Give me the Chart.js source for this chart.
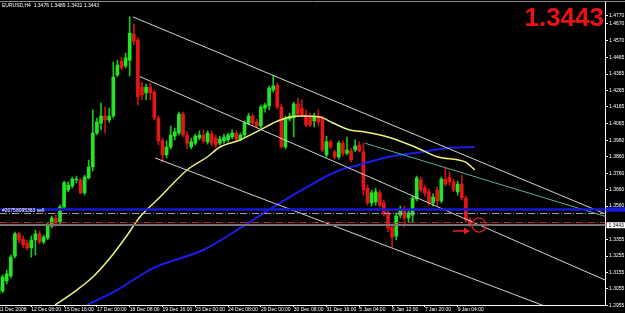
<!DOCTYPE html>
<html><head><meta charset="utf-8">
<script src="https://cdn.jsdelivr.net/npm/chart.js@4/dist/chart.umd.min.js"></script>
<style>html,body{margin:0;padding:0;background:#000;overflow:hidden}</style>
</head><body>
<canvas id="c" width="625" height="313"></canvas>
<script>
const symbol = "EURUSD,H4";
// H4 candles, bar 0 = 11 Dec 2008 00:00
const openP = [1.3024,1.3042,1.3103,1.3134,1.3255,1.3390,1.3359,1.3335,1.3304,1.3353,1.3390,1.3341,1.3365,1.3438,1.3487,1.3463,1.3554,1.3658,1.3682,1.3719,1.3719,1.3640,1.3731,1.3798,1.4005,1.4066,1.4109,1.4085,1.4109,1.4359,1.4444,1.4414,1.4450,1.4609,1.4572,1.4286,1.4249,1.4286,1.4255,1.4097,1.3957,1.3871,1.3920,1.3987,1.4005,1.4121,1.3993,1.3920,1.3944,1.3975,1.3993,1.3951,1.3999,1.3975,1.3944,1.3957,1.3963,1.3981,1.4005,1.3969,1.3993,1.4066,1.4109,1.4072,1.4048,1.4158,1.4170,1.4268,1.4298,1.4164,1.3920,1.4091,1.4097,1.4182,1.4158,1.4115,1.4109,1.4079,1.4109,1.4097,1.3871,1.3951,1.3890,1.3859,1.3944,1.3883,1.3896,1.3902,1.3932,1.3890,1.3670,1.3579,1.3585,1.3640,1.3579,1.3518,1.3432,1.3377,1.3505,1.3536,1.3487,1.3505,1.3603,1.3719,1.3670,1.3646,1.3579,1.3658,1.3591,1.3725,1.3737,1.3707,1.3646,1.3694,1.3609,1.3476];
const highP = [1.3085,1.3140,1.3170,1.3262,1.3402,1.3402,1.3377,1.3353,1.3377,1.3414,1.3408,1.3383,1.3457,1.3499,1.3505,1.3566,1.3713,1.3707,1.3737,1.3743,1.3731,1.3749,1.3841,1.4146,1.4097,1.4188,1.4164,1.4158,1.4438,1.4450,1.4469,1.4493,1.4713,1.4670,1.4585,1.4316,1.4304,1.4310,1.4268,1.4109,1.3975,1.3957,1.4048,1.4036,1.4133,1.4133,1.4012,1.3975,1.3999,1.4018,1.4024,1.4018,1.4018,1.3993,1.3987,1.3999,1.4005,1.4024,1.4018,1.4005,1.4079,1.4127,1.4121,1.4091,1.4176,1.4188,1.4292,1.4359,1.4310,1.4182,1.4109,1.4127,1.4194,1.4219,1.4207,1.4146,1.4127,1.4127,1.4146,1.4109,1.3987,1.3963,1.3902,1.3957,1.3957,1.3981,1.3914,1.3963,1.3951,1.3944,1.3688,1.3658,1.3670,1.3658,1.3597,1.3536,1.3451,1.3518,1.3560,1.3560,1.3542,1.3621,1.3743,1.3737,1.3688,1.3664,1.3634,1.3676,1.3737,1.3792,1.3768,1.3725,1.3713,1.3749,1.3621,1.3489];
const lowP = [1.3006,1.3030,1.3085,1.3121,1.3243,1.3335,1.3304,1.3292,1.3249,1.3262,1.3329,1.3329,1.3353,1.3426,1.3438,1.3444,1.3548,1.3646,1.3670,1.3701,1.3634,1.3627,1.3725,1.3774,1.3993,1.4024,1.4005,1.4072,1.4097,1.4347,1.4390,1.4402,1.4353,1.4542,1.4176,1.4207,1.4207,1.4207,1.4085,1.3932,1.3829,1.3853,1.3908,1.3963,1.3993,1.3981,1.3908,1.3908,1.3932,1.3963,1.3944,1.3938,1.3926,1.3914,1.3932,1.3944,1.3951,1.3969,1.3957,1.3957,1.3981,1.4054,1.4054,1.4036,1.4036,1.4133,1.4146,1.4255,1.4152,1.3914,1.3908,1.4079,1.3981,1.4109,1.4103,1.4042,1.4042,1.4042,1.4048,1.3890,1.3859,1.3908,1.3847,1.3847,1.3865,1.3871,1.3829,1.3890,1.3890,1.3627,1.3566,1.3560,1.3566,1.3554,1.3499,1.3402,1.3310,1.3353,1.3487,1.3432,1.3463,1.3463,1.3591,1.3646,1.3621,1.3566,1.3560,1.3566,1.3579,1.3682,1.3688,1.3646,1.3627,1.3597,1.3463,1.3432];
const closeP = [1.3066,1.3127,1.3146,1.3249,1.3390,1.3353,1.3323,1.3304,1.3353,1.3390,1.3341,1.3371,1.3444,1.3487,1.3457,1.3554,1.3701,1.3688,1.3725,1.3725,1.3640,1.3737,1.3798,1.4005,1.4072,1.4109,1.4085,1.4109,1.4347,1.4420,1.4402,1.4463,1.4615,1.4566,1.4225,1.4237,1.4286,1.4249,1.4097,1.3957,1.3871,1.3920,1.3993,1.4012,1.4121,1.3993,1.3944,1.3951,1.3987,1.3993,1.3957,1.4005,1.3944,1.3932,1.3969,1.3981,1.3993,1.4005,1.3969,1.3993,1.4066,1.4109,1.4066,1.4048,1.4164,1.4176,1.4280,1.4292,1.4164,1.3920,1.4097,1.4109,1.4182,1.4121,1.4115,1.4054,1.4054,1.4109,1.4072,1.3902,1.3951,1.3920,1.3859,1.3944,1.3883,1.3902,1.3841,1.3926,1.3896,1.3658,1.3579,1.3640,1.3646,1.3566,1.3512,1.3426,1.3371,1.3499,1.3536,1.3487,1.3518,1.3609,1.3731,1.3658,1.3640,1.3579,1.3615,1.3591,1.3725,1.3694,1.3707,1.3658,1.3694,1.3609,1.3475,1.3443];

const xTickBars = [0,8,16,24,32,40,48,56,64,72,80,88,96,104,112];
const xTickLabels = ["11 Dec 2008","12 Dec 08:00","15 Dec 16:00","17 Dec 00:00","18 Dec 08:00","19 Dec 16:00","23 Dec 00:00","24 Dec 08:00","29 Dec 00:00","30 Dec 08:00","31 Dec 16:00","5 Jan 04:00","6 Jan 12:00","7 Jan 20:00","9 Jan 04:00"];
const yTickValues = [1.4721,1.4670,1.4570,1.4465,1.4365,1.4265,1.4165,1.4065,1.3960,1.3860,1.3760,1.3660,1.3560,1.3355,1.3255,1.3155,1.3055,1.2955];
const yTickLabels = ["1.4770","1.4670","1.4570","1.4465","1.4365","1.4265","1.4165","1.4065","1.3960","1.3860","1.3760","1.3660","1.3560","1.3355","1.3255","1.3155","1.3055","1.2955"];

// moving averages: [bar, price]
const maYellow = [[13.8,1.2957],[19.1,1.3048],[23.0,1.3127],[27.2,1.3243],[30.9,1.3365],[34.5,1.3493],[39.4,1.3615],[46.0,1.3780],[50.9,1.3859],[54.0,1.3920],[58.9,1.3963],[63.8,1.4024],[68.7,1.4085],[73.5,1.4109],[78.4,1.4103],[81.6,1.4066],[85.7,1.4024],[89.4,1.4012],[95.0,1.3981],[101.6,1.3920],[107.2,1.3859],[113.8,1.3829],[116.2,1.3780]];
const maBlue = [[21.6,1.2957],[28.9,1.3048],[37.7,1.3182],[49.9,1.3292],[60.1,1.3444],[67.0,1.3554],[75.2,1.3676],[83.3,1.3780],[87.0,1.3804],[95.0,1.3859],[103.3,1.3890],[109.6,1.3914],[116.2,1.3920]];

// trend lines: [bar, price] anchors
const trendUpper = [[32.8,1.4713],[148.4,1.3508]];
const trendMiddle = [[34.5,1.4349],[148.4,1.3104]];
const trendLower = [[38.2,1.3853],[148.4,1.2806]];
const trendTeal = [[89.4,1.3943],[148.4,1.3494]];

// horizontal levels
const levelBlue = 1.3539;
const levelOrder = 1.3516;
const levelStop = 1.3461;
const orderLabel = "#20758095363 sell";
const markerCircle = [117.2, 1.3444];
const markerArrow = [[110.8, 1.3408], [115.0, 1.3408]];

const xMin = 0.366, xMax = 148.05;
const yMin = 1.29567, yMax = 1.48041;

const FONT = 'Arial, "Liberation Sans", sans-serif';
const last = closeP.length - 1;
const isUp = closeP.map((c, i) => c >= openP[i]);
const wickData = closeP.map((c, i) => ({x: i, y: [lowP[i], highP[i]]}));
const bodyData = closeP.map((c, i) => ({x: i, y: [openP[i], c]}));
const pts = arr => arr.map(([x, y]) => ({x, y}));
const lineDs = (label, arr, color, w, extra) => Object.assign({type: 'line', label, data: pts(arr), borderColor: color, borderWidth: w, pointRadius: 0, fill: false, order: 0}, extra || {});

const mt4 = {
  id: 'mt4',
  beforeDraw(chart) {
    const ctx = chart.ctx;
    ctx.save();
    ctx.fillStyle = '#000';
    ctx.fillRect(0, 0, chart.width, chart.height);
    ctx.strokeStyle = '#8c8c8c';
    ctx.lineWidth = 1;
    ctx.beginPath(); ctx.moveTo(0, 1.5); ctx.lineTo(chart.width, 1.5); ctx.stroke();
    ctx.restore();
  },
  afterDatasetsDraw(chart) {
    const {ctx, chartArea: a, scales: {x, y}} = chart;
    ctx.save();
    const yb = y.getPixelForValue(levelBlue);
    ctx.fillStyle = '#1818d6';
    ctx.fillRect(a.left, yb - 1.25, a.right - a.left, 2.5);
    ctx.fillRect(a.right + 0.5, yb - 2.25, chart.width - a.right, 4.5);
    const hl = (p, color, w, dash) => {
      const py = Math.round(y.getPixelForValue(p)) + (w % 2 ? 0.5 : 0);
      ctx.strokeStyle = color; ctx.lineWidth = w; ctx.setLineDash(dash);
      ctx.beginPath(); ctx.moveTo(a.left, py); ctx.lineTo(a.right, py); ctx.stroke();
    };
    hl(levelOrder, '#a0a0a0', 1, [7, 2, 1, 2]);
    hl(levelStop, '#c62626', 1, [7, 2, 1, 2]);
    hl(closeP[last], '#747474', 2, []);
    ctx.setLineDash([]);
    // order label
    ctx.font = '5px ' + FONT;
    ctx.fillStyle = '#ffffff';
    ctx.textBaseline = 'bottom';
    ctx.textAlign = 'left';
    ctx.fillText(orderLabel, 2, y.getPixelForValue(levelOrder) - 0.5);
    // circle and arrow
    ctx.strokeStyle = '#e51c1c';
    ctx.lineWidth = 1.2;
    ctx.beginPath();
    ctx.arc(x.getPixelForValue(markerCircle[0]), y.getPixelForValue(markerCircle[1]), 7, 0, Math.PI * 2);
    ctx.stroke();
    const ax1 = x.getPixelForValue(markerArrow[0][0]), ay = y.getPixelForValue(markerArrow[0][1]);
    const ax2 = x.getPixelForValue(markerArrow[1][0]);
    ctx.lineWidth = 1.6;
    ctx.beginPath(); ctx.moveTo(ax1, ay); ctx.lineTo(ax2 - 5, ay); ctx.stroke();
    ctx.fillStyle = '#e51c1c';
    ctx.beginPath(); ctx.moveTo(ax2 - 6, ay - 3.5); ctx.lineTo(ax2, ay); ctx.lineTo(ax2 - 6, ay + 3.5); ctx.closePath(); ctx.fill();
    ctx.restore();
  },
  afterDraw(chart) {
    const {ctx, chartArea: a, scales: {y}} = chart;
    ctx.save();
    const f = v => v.toFixed(4);
    ctx.font = '5px ' + FONT;
    ctx.fillStyle = '#ffffff';
    ctx.textBaseline = 'middle';
    ctx.textAlign = 'left';
    ctx.fillText(symbol + '  ' + f(openP[last]) + ' ' + f(highP[last]) + ' ' + f(lowP[last]) + ' ' + f(closeP[last]), 2, 5.5);
    // current price box
    const py = y.getPixelForValue(closeP[last]);
    ctx.fillStyle = '#ffffff';
    ctx.fillRect(a.right + 1, py - 3, chart.width - a.right - 1, 6);
    ctx.fillStyle = '#000000';
    ctx.fillText(f(closeP[last]), a.right + 3, py + 0.2);
    // big price
    ctx.font = 'bold 26px ' + FONT;
    ctx.fillStyle = '#ee1111';
    ctx.textAlign = 'right';
    ctx.textBaseline = 'alphabetic';
    ctx.fillText(f(closeP[last]), 604, 26);
    ctx.restore();
  }
};

Chart.defaults.font.family = FONT;
const tickFont = {size: 5, lineHeight: 1.2};

new Chart(document.getElementById('c'), {
  type: 'bar',
  data: {
    datasets: [
      lineDs('trendUpper', trendUpper, '#d2d2d2', 1),
      lineDs('trendMiddle', trendMiddle, '#d2d2d2', 1),
      lineDs('trendLower', trendLower, '#d2d2d2', 1),
      lineDs('trendTeal', trendTeal, '#5fae9c', 1),
      lineDs('MA yellow', maYellow, '#f0f07a', 1.5, {cubicInterpolationMode: 'monotone'}),
      lineDs('MA blue', maBlue, '#1c1ce8', 2, {cubicInterpolationMode: 'monotone'}),
      {label: 'wick', data: wickData, backgroundColor: isUp.map(u => u ? '#18c818' : '#c81414'), barThickness: 1, grouped: false, order: 2},
      {label: 'body', data: bodyData, backgroundColor: isUp.map(u => u ? '#22e622' : '#e31616'), barThickness: 3, minBarLength: 1, grouped: false, order: 1}
    ]
  },
  options: {
    responsive: false,
    animation: false,
    devicePixelRatio: 1,
    events: [],
    layout: {padding: {top: 2, left: 0, right: 0, bottom: 0}},
    plugins: {legend: {display: false}, tooltip: {enabled: false}},
    scales: {
      x: {
        type: 'linear', min: xMin, max: xMax, offset: false, bounds: 'data',
        grid: {display: true, drawOnChartArea: false, drawTicks: true, tickLength: 2, color: '#ffffff', offset: false},
        border: {display: true, color: '#ffffff', width: 1},
        ticks: {autoSkip: false, maxRotation: 0, minRotation: 0, align: 'start', padding: 0, color: '#ffffff', font: tickFont,
                callback: (v, i) => xTickLabels[i]},
        afterBuildTicks: s => { s.ticks = xTickBars.map(v => ({value: v})); },
        afterFit: s => { s.height = 8; s.paddingLeft = 0; s.paddingRight = 0; }
      },
      y: {
        type: 'linear', position: 'right', min: yMin, max: yMax, bounds: 'data',
        grid: {display: true, drawOnChartArea: false, drawTicks: true, tickLength: 2.5, color: '#ffffff'},
        border: {display: true, color: '#ffffff', width: 1},
        ticks: {autoSkip: false, padding: 1, color: '#ffffff', font: tickFont,
                callback: (v, i) => yTickLabels[i]},
        afterBuildTicks: s => { s.ticks = yTickValues.map(v => ({value: v})); },
        afterFit: s => { s.width = 19.5; s.paddingTop = 0; s.paddingBottom = 0; }
      }
    }
  },
  plugins: [mt4]
});
</script>
</body></html>
